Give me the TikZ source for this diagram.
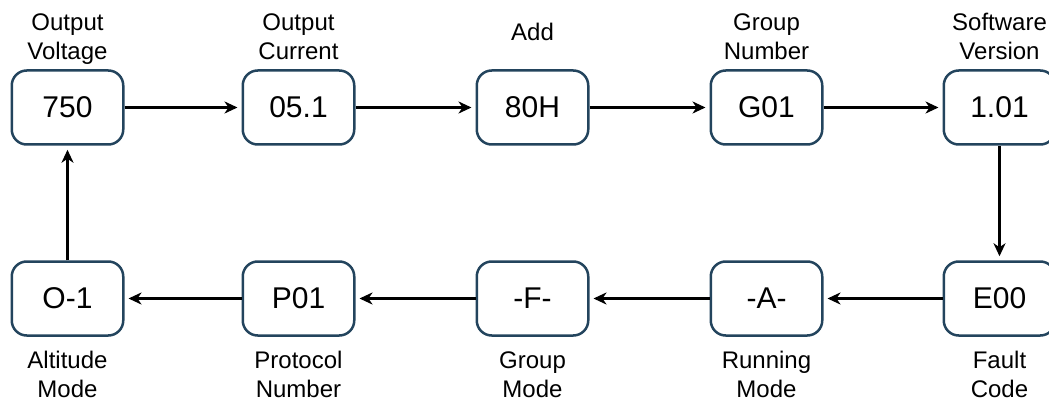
\documentclass[tikz,border=0pt]{standalone}
\usepackage{fontspec}
\setmainfont{Liberation Sans}
\usetikzlibrary{arrows.meta}
\definecolor{boxline}{HTML}{23445D}
\tikzset{
  stbox/.style={draw=boxline, line width=2.5pt, rounded corners=15pt, fill=white,
    minimum width=111.5pt, minimum height=74pt, inner sep=0pt,
    font=\fontsize{30}{35}\selectfont},
  lab/.style={align=center, inner sep=0pt, font=\fontsize{24}{29}\selectfont},
  conn/.style={line width=2.3pt, -{Stealth[length=13pt,width=12pt,inset=4pt]}, shorten >=4pt}
}
\begin{document}
\begin{tikzpicture}[x=1pt,y=-1pt]
\useasboundingbox (0,0) rectangle (1049,401);
% top row
\node[stbox] (b1) at (67.5,107.5) {750};
\node[stbox] (b2) at (298.5,107.5) {05.1};
\node[stbox] (b3) at (532.5,107.5) {80H};
\node[stbox] (b4) at (766.5,107.5) {G01};
\node[stbox] (b5) at (999.5,107.5) {1.01};
% bottom row
\node[stbox] (c1) at (67.5,298.5) {O-1};
\node[stbox] (c2) at (298.5,298.5) {P01};
\node[stbox] (c3) at (532.5,298.5) {-F-};
\node[stbox] (c4) at (766.5,298.5) {-A-};
\node[stbox] (c5) at (999.5,298.5) {E00};
% labels (base anchor = baseline of last line)
\node[lab, anchor=base] (l1) at (67.5,60) {Output\\Voltage};
\node[lab, anchor=base] (l2) at (298.5,60) {Output\\Current};
\node[lab, anchor=base] (l3) at (532.5,41) {Add};
\node[lab, anchor=base] (l4) at (766.5,60) {Group\\Number};
\node[lab, anchor=base] (l5) at (999.5,60) {Software\\Version};
\node[lab, anchor=base] (m1) at (67.5,397) {Altitude\\Mode};
\node[lab, anchor=base] (m2) at (298.5,397) {Protocol\\Number};
\node[lab, anchor=base] (m3) at (532.5,397) {Group\\Mode};
\node[lab, anchor=base] (m4) at (766.5,397) {Running\\Mode};
\node[lab, anchor=base] (m5) at (999.5,397) {Fault\\Code};
% connectors
\draw[conn] (b1) -- (b2);
\draw[conn] (b2) -- (b3);
\draw[conn] (b3) -- (b4);
\draw[conn] (b4) -- (b5);
\draw[conn] (b5) -- (c5);
\draw[conn] (c5) -- (c4);
\draw[conn] (c4) -- (c3);
\draw[conn] (c3) -- (c2);
\draw[conn] (c2) -- (c1);
\draw[conn] (c1) -- (b1);
\end{tikzpicture}
\end{document}
